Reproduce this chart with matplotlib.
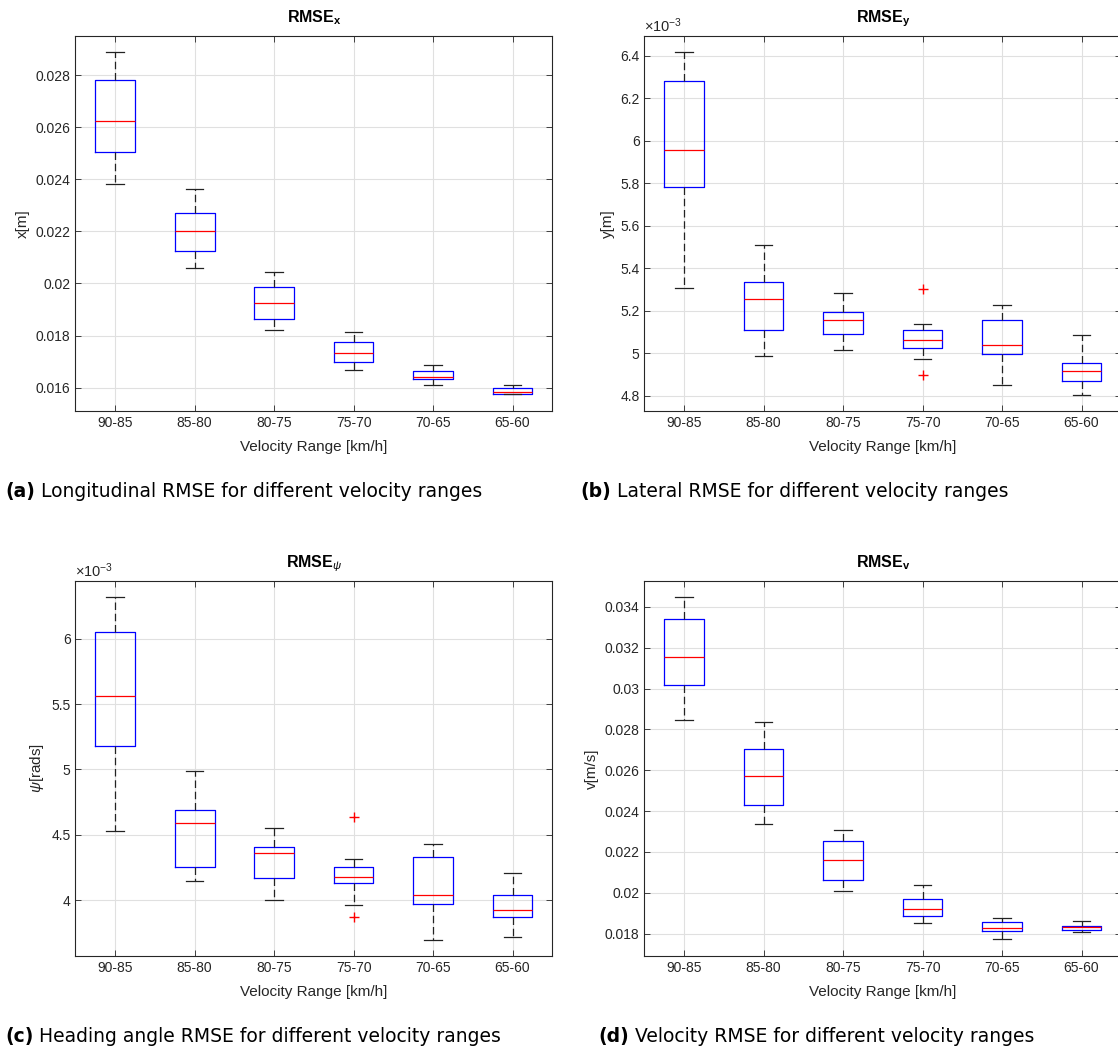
import matplotlib
matplotlib.use('Agg')
import matplotlib.pyplot as plt
from matplotlib.ticker import MultipleLocator, FuncFormatter

plt.rcParams['font.family'] = ['Liberation Sans', 'DejaVu Sans']
plt.rcParams['mathtext.fontset'] = 'custom'
plt.rcParams['mathtext.rm'] = 'Liberation Sans'
plt.rcParams['mathtext.bf'] = 'Liberation Sans:bold'
plt.rcParams['mathtext.it'] = 'Liberation Sans:italic'

categories = ['90-85', '85-80', '80-75', '75-70', '70-65', '65-60']

# (a) longitudinal RMSE [m]
x_whishi = [0.02888, 0.02362, 0.02043, 0.01815, 0.01687, 0.01610]
x_q3 = [0.02780, 0.02269, 0.01987, 0.01774, 0.01662, 0.01599]
x_med = [0.02625, 0.02202, 0.01925, 0.01733, 0.01642, 0.01583]
x_q1 = [0.02504, 0.02126, 0.01863, 0.01700, 0.01632, 0.01574]
x_whislo = [0.02381, 0.02061, 0.01823, 0.01669, 0.01609, 0.01574]
x_fliers = [[], [], [], [], [], []]

# (b) lateral RMSE [m]
y_whishi = [6.417e-3, 5.508e-3, 5.282e-3, 5.139e-3, 5.227e-3, 5.084e-3]
y_q3 = [6.281e-3, 5.334e-3, 5.196e-3, 5.111e-3, 5.155e-3, 4.952e-3]
y_med = [5.957e-3, 5.255e-3, 5.156e-3, 5.064e-3, 5.040e-3, 4.916e-3]
y_q1 = [5.785e-3, 5.108e-3, 5.090e-3, 5.026e-3, 4.996e-3, 4.867e-3]
y_whislo = [5.309e-3, 4.985e-3, 5.013e-3, 4.973e-3, 4.852e-3, 4.805e-3]
y_fliers = [[], [], [], [5.302e-3, 4.896e-3], [], []]

# (c) heading angle RMSE [rads]
psi_whishi = [6.316e-3, 4.986e-3, 4.550e-3, 4.316e-3, 4.433e-3, 4.211e-3]
psi_q3 = [6.051e-3, 4.688e-3, 4.408e-3, 4.257e-3, 4.334e-3, 4.043e-3]
psi_med = [5.559e-3, 4.594e-3, 4.359e-3, 4.181e-3, 4.043e-3, 3.924e-3]
psi_q1 = [5.180e-3, 4.252e-3, 4.173e-3, 4.130e-3, 3.974e-3, 3.875e-3]
psi_whislo = [4.527e-3, 4.150e-3, 4.000e-3, 3.967e-3, 3.699e-3, 3.720e-3]
psi_fliers = [[], [], [], [4.634e-3, 3.873e-3], [], []]

# (d) velocity RMSE [m/s]
v_whishi = [0.03447, 0.02838, 0.02309, 0.02038, 0.01878, 0.01860]
v_q3 = [0.03343, 0.02703, 0.02252, 0.01971, 0.01859, 0.01836]
v_med = [0.03154, 0.02571, 0.02159, 0.01921, 0.01828, 0.01831]
v_q1 = [0.03016, 0.02430, 0.02061, 0.01887, 0.01815, 0.01818]
v_whislo = [0.02848, 0.02336, 0.02007, 0.01851, 0.01772, 0.01808]
v_fliers = [[], [], [], [], [], []]

captions = [('(a)', 'Longitudinal RMSE for different velocity ranges'),
            ('(b)', 'Lateral RMSE for different velocity ranges'),
            ('(c)', 'Heading angle RMSE for different velocity ranges'),
            ('(d)', 'Velocity RMSE for different velocity ranges')]

DARK = '#262626'


def make_stats(whislo, q1, med, q3, whishi, fliers):
    stats = []
    for i in range(len(categories)):
        stats.append({'label': categories[i], 'whislo': whislo[i], 'q1': q1[i],
                      'med': med[i], 'q3': q3[i], 'whishi': whishi[i],
                      'fliers': fliers[i]})
    return stats


def draw_panel(ax, stats, title, ylabel, ylim, step, scaled):
    ax.bxp(stats, positions=range(1, 7), widths=0.5, capwidths=0.22,
           boxprops=dict(color='#0000ff', lw=0.9),
           medianprops=dict(color='#ff0000', lw=0.9),
           whiskerprops=dict(color='#222222', lw=0.9, ls=(0, (6, 3))),
           capprops=dict(color='#222222', lw=0.9),
           flierprops=dict(marker='+', markeredgecolor='#ff0000',
                           markersize=7, ls='none'))
    ax.set_xlim(0.5, 6.5)
    ax.set_ylim(*ylim)
    ax.set_xticks(range(1, 7), categories)
    ax.yaxis.set_major_locator(MultipleLocator(step))
    if scaled:
        ax.yaxis.set_major_formatter(FuncFormatter(lambda v, p: f'{v * 1e3:g}'))
        ax.text(0, 1.003, r'$\times10^{-3}$', transform=ax.transAxes,
                ha='left', va='bottom', fontsize=10.5, color=DARK)
    else:
        ax.yaxis.set_major_formatter(FuncFormatter(lambda v, p: f'{v:g}'))
    ax.grid(True, color='#e0e0e0', lw=0.8)
    ax.set_axisbelow(True)
    for s in ax.spines.values():
        s.set_color(DARK)
        s.set_linewidth(0.8)
    ax.tick_params(direction='in', top=True, right=True, length=4, width=0.6,
                   colors=DARK, labelsize=10)
    ax.set_title(title, fontsize=11.5, color='black', pad=10)
    ax.set_ylabel(ylabel, fontsize=11, color=DARK)
    ax.set_xlabel('Velocity Range [km/h]', fontsize=11, color=DARK, labelpad=7)


fig = plt.figure(figsize=(11.18, 10.52), dpi=100)
ax_a = fig.add_axes([0.0675, 0.6093, 0.4265, 0.3565])
ax_b = fig.add_axes([0.5764, 0.6093, 0.4265, 0.3565])
ax_c = fig.add_axes([0.0675, 0.0913, 0.4265, 0.3565])
ax_d = fig.add_axes([0.5764, 0.0913, 0.4265, 0.3565])

draw_panel(ax_a, make_stats(x_whislo, x_q1, x_med, x_q3, x_whishi, x_fliers),
           r'$\mathbf{RMSE}_\mathbf{x}$', 'x[m]', (0.01510, 0.02951), 0.002, False)
draw_panel(ax_b, make_stats(y_whislo, y_q1, y_med, y_q3, y_whishi, y_fliers),
           r'$\mathbf{RMSE}_\mathbf{y}$', 'y[m]', (4.728e-3, 6.494e-3), 0.2e-3, True)
draw_panel(ax_c, make_stats(psi_whislo, psi_q1, psi_med, psi_q3, psi_whishi, psi_fliers),
           r'$\mathbf{RMSE}_{\psi}$', r'$\psi$[rads]', (3.5745e-3, 6.441e-3), 0.5e-3, True)
draw_panel(ax_d, make_stats(v_whislo, v_q1, v_med, v_q3, v_whishi, v_fliers),
           r'$\mathbf{RMSE}_\mathbf{v}$', 'v[m/s]', (0.016906, 0.035273), 0.002, False)

# sub-figure captions: bold tag + plain text
cap_x = [5, 580, 5, 598]
cap_y = [1 - 497 / 1052, 1 - 497 / 1052, 1 - 1042 / 1052, 1 - 1042 / 1052]
renderer = fig.canvas.get_renderer()
for i, (tag, text) in enumerate(captions):
    t = fig.text(cap_x[i] / 1118, cap_y[i], tag, fontsize=13.5, fontweight='bold',
                 family='DejaVu Sans', ha='left', va='baseline')
    w_tag = t.get_window_extent(renderer).width
    fig.text((cap_x[i] + w_tag) / 1118, cap_y[i], ' ' + text, fontsize=13.5,
             family='DejaVu Sans', ha='left', va='baseline')

fig.savefig('out.png', dpi=100)
